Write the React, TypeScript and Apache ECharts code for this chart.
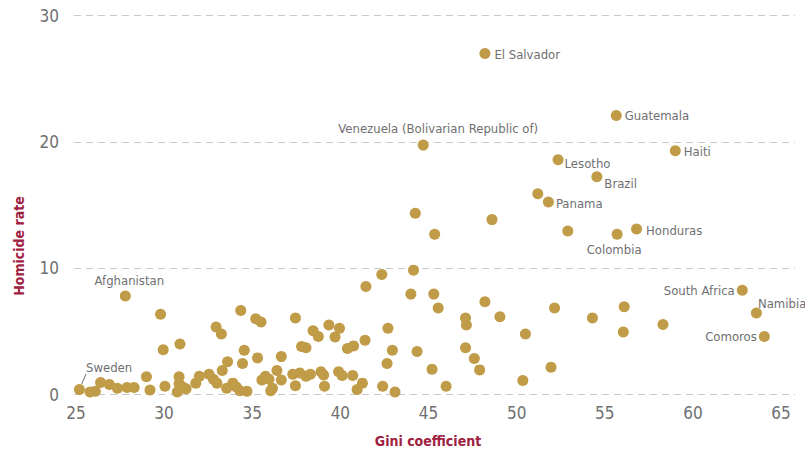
import React, { useEffect, useRef } from "react";
import * as echarts from "echarts";

// Unlabelled countries
const giniValues: number[] = [
  25.8, 26.1, 26.4, 26.9, 27.35, 27.9, 28.3, 29.0, 29.2,
  29.8, 29.95, 30.05, 30.9, 30.85, 30.85, 30.75, 31.25, 31.05,
  31.8, 32.0, 32.55, 32.8, 33.0, 32.95, 33.25, 33.3, 33.6, 33.55,
  33.9, 34.1, 34.3, 34.7, 34.35, 34.55, 34.45, 35.2, 35.5, 35.3,
  35.55, 35.75, 35.95, 36.05, 36.15, 36.4, 36.65, 36.65, 37.45, 37.3,
  37.45, 37.7, 38.05, 37.8, 38.05, 38.3, 38.45, 38.75, 38.9, 39.05,
  39.1, 39.35, 39.7, 39.95, 39.9, 40.1, 40.4, 40.75, 40.7, 40.95,
  41.25, 41.4, 41.45, 42.35, 42.4, 42.7, 42.65, 42.95, 43.1, 44.15,
  44.0, 44.35, 44.25, 48.6, 45.35, 45.3, 45.55, 48.2, 47.1, 47.15,
  49.05, 50.5, 47.1, 47.6, 45.2, 47.9, 50.35, 46.0, 51.95, 52.15,
  54.3, 56.1, 56.05, 58.3, 51.2, 52.9,
];

const homicideRates: number[] = [
  0.2, 0.25, 0.95, 0.8, 0.5, 0.55, 0.55, 1.4, 0.35,
  6.35, 3.55, 0.65, 4.0, 1.4, 0.85, 0.2, 0.45, 0.6,
  0.9, 1.45, 1.6, 1.2, 0.9, 5.35, 4.8, 1.9, 2.6, 0.5,
  0.9, 0.6, 0.3, 0.25, 6.65, 3.5, 2.45, 6.0, 5.75, 2.9,
  1.15, 1.45, 1.2, 0.3, 0.5, 1.9, 1.15, 3.0, 6.05, 1.6,
  0.7, 1.7, 1.45, 3.8, 3.7, 1.6, 5.05, 4.6, 1.8, 1.55,
  0.65, 5.5, 4.55, 5.25, 1.8, 1.5, 3.65, 3.85, 1.5, 0.4,
  0.9, 4.3, 8.55, 9.5, 0.65, 5.25, 2.45, 3.5, 0.2, 9.85,
  7.95, 3.4, 14.35, 13.85, 12.7, 7.95, 6.85, 7.35, 6.05, 5.5,
  6.15, 4.8, 3.7, 2.85, 2.0, 1.95, 1.1, 0.65, 2.15, 6.85,
  6.05, 6.95, 4.95, 5.55, 15.9, 12.95,
];

// Labelled countries
const labelledCountries: string[] = [
  "Sweden", "Afghanistan", "El Salvador", "Guatemala",
  "Venezuela (Bolivarian Republic of)", "Haiti", "Lesotho", "Brazil",
  "Panama", "Colombia", "Honduras", "South Africa", "Namibia", "Comoros",
];
const labelledGini: number[] = [
  25.2, 27.8, 48.2, 55.65, 44.7, 59.0, 52.35, 54.55, 51.8, 55.7, 56.8, 62.8, 63.6, 64.05,
];
const labelledHomicide: number[] = [
  0.4, 7.8, 27.0, 22.1, 19.75, 19.3, 18.6, 17.25, 15.25, 12.7, 13.1, 8.25, 6.45, 4.6,
];

const xTicks: number[] = [25, 30, 35, 40, 45, 50, 55, 60, 65];
const yTicks: number[] = [0, 10, 20, 30];

const FONT = "'DejaVu Sans Condensed', 'Liberation Sans Narrow', 'Noto Sans', sans-serif";
const TEXT_GREY = "#6f6f71";
const DOT = "#C09C48";
const TITLE_RED = "#A0213F";

const labelPlacement: Record<string, any> = {
  "Sweden": { position: "right", distance: 0, offset: [1, -22] },
  "Afghanistan": { position: "top", distance: 4, offset: [4, 0] },
  "El Salvador": { position: "right", distance: 4, offset: [0, 1] },
  "Guatemala": { position: "right", distance: 3, offset: [0, 0] },
  "Venezuela (Bolivarian Republic of)": { position: "top", distance: 5, offset: [15, 0] },
  "Haiti": { position: "right", distance: 3, offset: [0, 1] },
  "Lesotho": { position: "right", distance: 1, offset: [0, 4] },
  "Brazil": { position: "right", distance: 2, offset: [0, 7] },
  "Panama": { position: "right", distance: 2, offset: [0, 2] },
  "Colombia": { position: "bottom", distance: 3, offset: [-3, 0] },
  "Honduras": { position: "right", distance: 4, offset: [0, 1] },
  "South Africa": { position: "left", distance: 2, offset: [0, 0] },
  "Namibia": { position: "right", distance: 0, offset: [-4, -10] },
  "Comoros": { position: "left", distance: 2, offset: [0, 0] },
};

export default function App() {
  const ref = useRef<HTMLDivElement>(null);

  useEffect(() => {
    if (!ref.current) return;
    const chart = echarts.init(ref.current, undefined, { renderer: "svg" });

    const plain = giniValues.map((g, i) => ({ value: [g, homicideRates[i]] }));
    const labelled = labelledCountries.map((name, i) => {
      const item: any = {
        name,
        value: [labelledGini[i], labelledHomicide[i]],
        label: { show: true, formatter: name, ...labelPlacement[name] },
      };
      if (name === "Sweden") {
        item.labelLine = { show: true, length2: 0, lineStyle: { color: TEXT_GREY, width: 1 } };
      }
      return item;
    });

    chart.setOption({
      animation: false,
      backgroundColor: "#ffffff",
      grid: { left: 74, right: 10, top: 15.7, bottom: 59.5, containLabel: false },
      xAxis: {
        type: "value",
        min: 24.89,
        max: 65.79,
        axisLine: { show: false },
        axisTick: { show: false },
        splitLine: { show: false },
        axisLabel: {
          customValues: xTicks,
          color: TEXT_GREY,
          fontFamily: FONT,
          fontSize: 17,
          margin: 10,
        },
      },
      yAxis: {
        type: "value",
        min: 0,
        max: 30,
        interval: 10,
        axisLine: { show: false },
        axisTick: { show: false },
        splitLine: {
          show: true,
          lineStyle: { color: "#c8c8c8", type: [7, 5], width: 1 },
        },
        axisLabel: {
          customValues: yTicks,
          color: TEXT_GREY,
          fontFamily: FONT,
          fontSize: 17,
          margin: 15,
        },
      },
      graphic: [
        {
          type: "text",
          x: 428,
          y: 441,
          style: {
            text: "Gini coefficient",
            fill: TITLE_RED,
            font: `bold 14px ${FONT}`,
            textAlign: "center",
            textVerticalAlign: "middle",
          },
        },
        {
          type: "text",
          x: 19,
          y: 246,
          rotation: Math.PI / 2,
          style: {
            text: "Homicide rate",
            fill: TITLE_RED,
            font: `bold 14px ${FONT}`,
            textAlign: "center",
            textVerticalAlign: "middle",
          },
        },
      ],
      series: [
        {
          type: "scatter",
          symbol: "circle",
          symbolSize: 11,
          itemStyle: { color: DOT, opacity: 1 },
          label: {
            show: false,
            color: TEXT_GREY,
            fontFamily: FONT,
            fontSize: 13,
          },
          labelLine: { show: false },
          data: [...plain, ...labelled],
        },
      ],
    });

    return () => chart.dispose();
  }, []);

  return <div ref={ref} style={{ width: 805, height: 454, position: "absolute", left: 0, top: 0 }} />;
}
